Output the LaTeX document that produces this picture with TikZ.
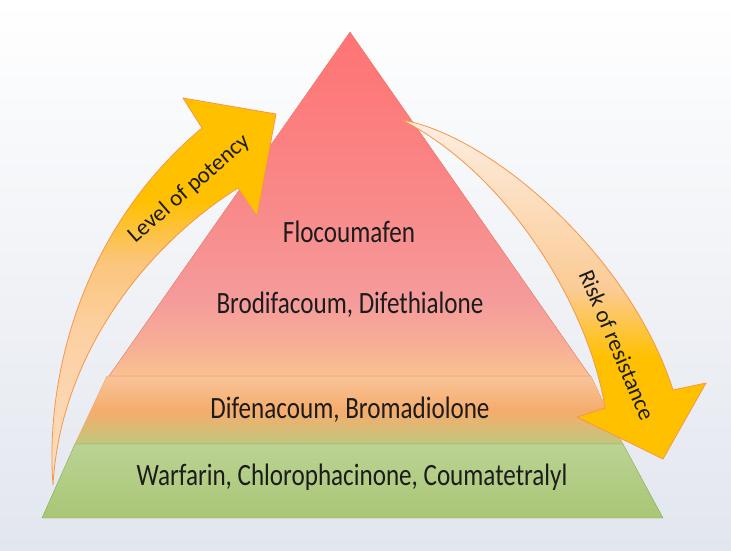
\documentclass[tikz,border=0pt]{standalone}
\usepackage{fontspec}
\setmainfont{Carlito}
\newfontfamily\condfont{Carlito}[FakeStretch=0.81]
\usepackage{tikz}
\definecolor{colorbg}{HTML}{E2E6EE}
\definecolor{colortx}{HTML}{1C1C1C}
\definecolor{colorarl}{HTML}{F79646}
\definecolor{colortopl}{HTML}{E8745C}
\definecolor{colormidl}{HTML}{F5A35E}
\definecolor{colorlol}{HTML}{86A84E}
\definecolor{colorlotop}{HTML}{BBD393}
\definecolor{colorlobot}{HTML}{A9C676}
% vertical shadings, bottom (25bp) to top (75bp)
\pgfdeclareverticalshading{shtop}{100bp}{color(0bp)=(rgb,255:red,249;green,194;blue,144);
  color(25bp)=(rgb,255:red,249;green,194;blue,144); color(29.5bp)=(rgb,255:red,247;green,174;blue,150);
  color(36bp)=(rgb,255:red,245;green,155;blue,155); color(50.6bp)=(rgb,255:red,249;green,136;blue,136);
  color(75bp)=(rgb,255:red,255;green,115;blue,115); color(100bp)=(rgb,255:red,255;green,115;blue,115)}
\pgfdeclareverticalshading{shmid}{100bp}{color(0bp)=(rgb,255:red,189;green,198;blue,127);
  color(25bp)=(rgb,255:red,189;green,198;blue,127); color(35.3bp)=(rgb,255:red,216;green,188;blue,118);
  color(50bp)=(rgb,255:red,245;green,172;blue,108); color(75bp)=(rgb,255:red,249;green,196;blue,154);
  color(100bp)=(rgb,255:red,249;green,196;blue,154)}
\pgfdeclareverticalshading{shleft}{100bp}{color(0bp)=(rgb,255:red,253;green,221;blue,194);
  color(25bp)=(rgb,255:red,253;green,221;blue,194); color(45bp)=(rgb,255:red,252;green,208;blue,162);
  color(54bp)=(rgb,255:red,251;green,197;blue,122); color(61.8bp)=(rgb,255:red,255;green,192;blue,0);
  color(75bp)=(rgb,255:red,255;green,192;blue,0); color(100bp)=(rgb,255:red,255;green,192;blue,0)}
\pgfdeclareverticalshading{shright}{100bp}{color(0bp)=(rgb,255:red,255;green,192;blue,0);
  color(25bp)=(rgb,255:red,255;green,192;blue,0); color(40bp)=(rgb,255:red,255;green,192;blue,0);
  color(50bp)=(rgb,255:red,251;green,203;blue,149); color(75bp)=(rgb,255:red,253;green,238;blue,226);
  color(100bp)=(rgb,255:red,253;green,238;blue,226)}
\tikzset{
  pyrlabel/.style={font=\condfont\fontsize{31}{36}\selectfont, text=colortx, anchor=base},
  arrlabel/.style={font=\fontsize{23}{28}\selectfont, text=colortx},
  arrline/.style={draw=colorarl, line width=0.8pt}
}

\begin{document}
\begin{tikzpicture}[x=1pt, y=-1pt, line join=round]
\useasboundingbox (0,0) rectangle (731,550);
\shade[top color=white, bottom color=colorbg] (0,0) rectangle (731,550);
% pyramid
\shadedraw[shading=shmid, draw=colormidl] (75,444) -- (623,444) -- (591,376) -- (107,376) -- cycle;
\shadedraw[top color=colorlotop, bottom color=colorlobot, draw=colorlol] (42,518) -- (663,518) -- (623,444) -- (75,444) -- cycle;
\shadedraw[shading=shtop, draw=colortopl] (350,32) -- (590,376) -- (109,376) -- cycle;
% arrows
\shadedraw[shading=shleft, arrline] (53,485) .. controls (45,380) and (80,230) .. (202,128)
  -- (183,98) -- (276,114) -- (257,216) -- (238,188) .. controls (140,250) and (60,360) .. (53,485) -- cycle;
\shadedraw[shading=shright, arrline] (402,120) .. controls (490,135) and (630,255) .. (673,390)
  -- (706,383) -- (663,459) -- (577,417) -- (605,408) .. controls (590,310) and (510,175) .. (402,120) -- cycle;
% labels
\node[pyrlabel] (flo) at (349,242) {Flocoumafen};
\node[pyrlabel] (bro) at (350,313) {Brodifacoum, Difethialone};
\node[pyrlabel] (dif) at (350,418) {Difenacoum, Bromadiolone};
\node[pyrlabel] (war) at (352,485) {Warfarin, Chlorophacinone, Coumatetralyl};
\node[arrlabel, rotate=41] (pot) at (189,189) {Level of potency};
\node[arrlabel, rotate=-67] (res) at (617,345) {Risk of resistance};
\end{tikzpicture}
\end{document}
